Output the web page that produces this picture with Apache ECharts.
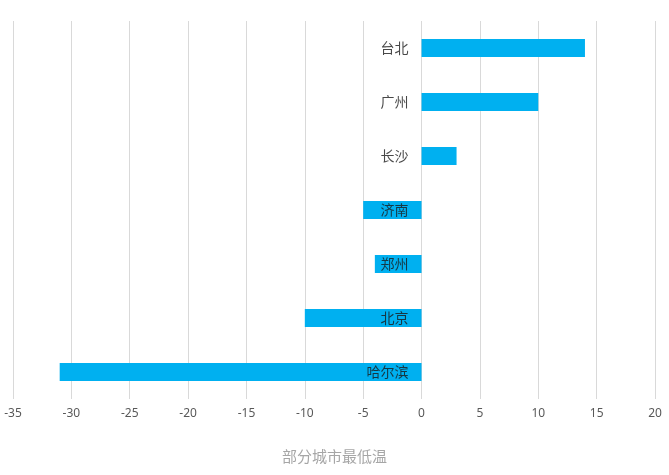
<!DOCTYPE html>
<html><head><meta charset="utf-8">
<script src="https://cdn.jsdelivr.net/npm/echarts@6/dist/echarts.min.js"></script>
<style>html,body{margin:0;padding:0;background:#fff}#c{width:669px;height:475px}</style>
</head><body><div id="c"></div>
<script>
const categories = ['哈尔滨', '北京', '郑州', '济南', '长沙', '广州', '台北'];
const values = [-31, -10, -4, -5, 3, 10, 14];
const xTicks = { min: -35, max: 20, interval: 5 };
const titleText = '部分城市最低温';

const chart = echarts.init(document.getElementById('c'));
chart.setOption({
  animation: false,
  backgroundColor: '#fff',
  title: {
    text: titleText, left: 'center', bottom: 6,
    textStyle: { color: '#a6a6a6', fontSize: 15, fontWeight: 'normal', fontFamily: 'Noto Sans CJK SC' }
  },
  grid: { left: 13, right: 14, top: 21, bottom: 76, containLabel: false, outerBoundsMode: 'none' },
  xAxis: {
    type: 'value', min: xTicks.min, max: xTicks.max, interval: xTicks.interval,
    axisLine: { show: false }, axisTick: { show: false },
    splitLine: { show: true, lineStyle: { color: '#d9d9d9', width: 1 } },
    axisLabel: { color: '#595959', fontSize: 12, margin: 9, fontFamily: 'Noto Sans' }
  },
  yAxis: {
    type: 'category', data: categories,
    axisLine: { show: false }, axisTick: { show: false },
    splitLine: { show: false }, axisLabel: { show: false }
  },
  series: [{
    type: 'bar', data: values, barWidth: 18,
    itemStyle: { color: '#00b0f0' }
  }, {
    type: 'scatter', z: 10, symbolSize: 0, silent: true,
    data: categories.map(c => [0, c]),
    label: {
      show: true, position: 'left', distance: 13,
      formatter: p => p.value[1],
      color: '#1a1a1a', fontSize: 14, fontFamily: 'Noto Sans CJK SC'
    }
  }]
});
</script></body></html>
